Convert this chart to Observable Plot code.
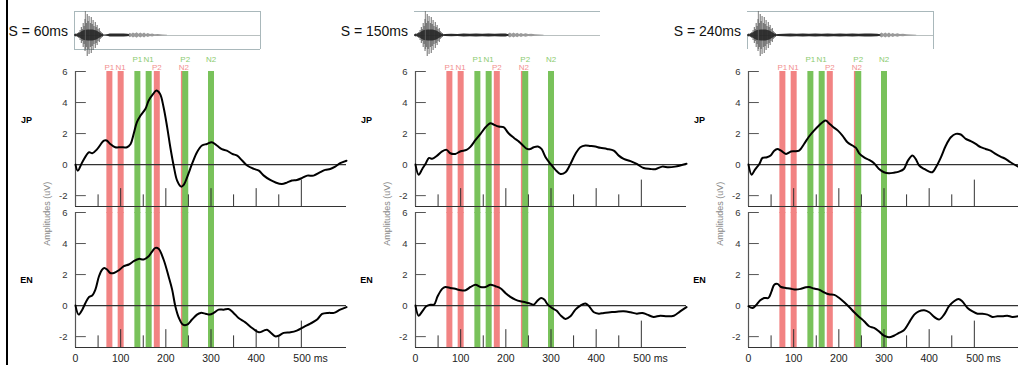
<!DOCTYPE html>
<html>
<head>
<meta charset="utf-8">
<script src="https://cdn.jsdelivr.net/npm/d3@7"></script>
<script src="https://cdn.jsdelivr.net/npm/@observablehq/plot@0.6"></script>
<style>
  html, body { margin: 0; padding: 0; background: #fff; }
  #root { position: relative; width: 1018px; height: 365px; overflow: hidden; font-family: "Liberation Sans", Arial, sans-serif; }
  .abs { position: absolute; }
  .title { position: absolute; top: 23px; font-size: 14px; line-height: 16px; white-space: nowrap; color: #111; text-align: right; }
  svg { overflow: visible; }
</style>
</head>
<body>
<div id="root"></div>
<script>
// ---------- data ----------
const rows = ["JP", "EN"];
const yTicks = [6, 4, 2, 0, -2];
const xTickValues = [0, 100, 200, 300, 400];
const xTickLabels = ["0", "100", "200", "300", "400"];
const xLastValue = 500;
const xLastLabel = "500 ms";
const rulerTimes = [50, 100, 150, 200, 250, 300, 350, 400, 450, 500];
const rulerLengths = [0.75, 1.15, 0.75, 1.15, 0.75, 1.15, 0.75, 1.15, 0.75, 1.7];
const redTimes = [75, 100, 180, 240];
const redLabels = ["P1", "N1", "P2", "N2"];
const greenTimes = [137, 162, 243, 300];
const greenLabels = ["P1", "N1", "P2", "N2"];
const rowLabelValues = [2.84, 1.63];
const titles = ["S = 60ms", "S = 150ms", "S = 240ms"];

// ERP curves [ms, µV]
const jp60 = [[0,0],[5,-0.39],[15,0.15],[30,0.8],[37,0.73],[48,1.0],[63,1.55],[69,1.55],[77,1.33],[88,1.12],[100,1.12],[114,1.12],[122,1.33],[129,2.0],[136,2.73],[144,3.16],[155,3.6],[162,4.13],[172,4.56],[179,4.77],[187,4.56],[195,3.7],[203,2.4],[210,1.1],[218,-0.17],[225,-1.03],[234,-1.42],[240,-1.29],[247,-0.82],[258,0.04],[269,0.8],[280,1.23],[291,1.33],[302,1.44],[313,1.23],[324,1.0],[335,0.9],[347,0.69],[358,0.58],[369,0.26],[380,-0.06],[395,-0.28],[406,-0.39],[417,-0.71],[431,-0.99],[442,-1.14],[457,-1.25],[468,-1.16],[479,-1.03],[490,-0.99],[502,-0.86],[513,-0.71],[527,-0.71],[542,-0.49],[553,-0.34],[564,-0.28],[575,-0.13],[586,0.09],[600,0.25]];
const en60 = [[0,0],[7,-0.58],[15,-0.26],[22,0.17],[30,0.56],[37,0.65],[44,1.03],[52,1.89],[59,2.32],[64,2.43],[70,2.32],[77,2.1],[85,2.1],[96,2.28],[107,2.54],[118,2.65],[129,2.86],[140,3.01],[151,2.97],[162,3.18],[170,3.5],[177,3.72],[184,3.66],[195,2.97],[206,1.89],[214,1.03],[221,-0.04],[229,-0.8],[238,-1.23],[247,-1.23],[258,-0.9],[269,-0.58],[277,-0.47],[288,-0.52],[297,-0.58],[306,-0.47],[317,-0.26],[328,-0.26],[339,-0.22],[350,-0.47],[361,-0.8],[376,-1.08],[391,-1.44],[406,-1.72],[417,-1.61],[424,-1.55],[433,-1.76],[442,-1.98],[450,-1.94],[461,-1.76],[476,-1.72],[490,-1.61],[505,-1.38],[520,-1.16],[535,-0.9],[546,-0.54],[560,-0.47],[572,-0.47],[586,-0.26],[600,-0.1]];
const jp150 = [[0,0],[7,-0.65],[15,-0.28],[22,0.04],[30,0.43],[37,0.37],[48,0.58],[59,0.86],[69,0.95],[77,0.73],[88,0.69],[100,0.86],[113,0.95],[122,1.16],[133,1.59],[144,1.98],[155,2.41],[166,2.67],[173,2.58],[184,2.45],[195,2.41],[206,2.02],[218,1.72],[229,1.48],[238,1.23],[247,1.01],[254,1.01],[262,1.12],[271,1.16],[279,1.01],[288,0.47],[299,0.04],[310,-0.34],[321,-0.6],[332,-0.49],[343,0.04],[354,0.69],[365,1.12],[376,1.23],[387,1.2],[398,1.16],[409,1.08],[424,1.01],[439,0.9],[450,0.58],[461,0.37],[476,0.22],[490,0.04],[505,-0.22],[520,-0.28],[531,-0.3],[546,-0.13],[560,-0.17],[575,-0.13],[586,-0.06],[600,0.05]];
const en150 = [[0,0],[7,-0.65],[15,-0.37],[24,-0.04],[33,0.06],[41,0.06],[49,0.6],[59,1.08],[66,1.2],[77,1.14],[88,1.08],[100,0.99],[111,0.99],[122,1.2],[133,1.35],[144,1.2],[155,1.2],[166,1.35],[177,1.25],[188,1.12],[199,0.82],[210,0.56],[221,0.39],[232,0.28],[243,0.22],[254,0.13],[262,0.06],[269,0.28],[278,0.49],[285,0.39],[293,0.06],[302,-0.15],[312,-0.32],[322,-0.65],[332,-0.86],[343,-0.69],[354,-0.26],[365,0],[376,0.13],[383,0],[395,-0.43],[406,-0.52],[417,-0.47],[431,-0.43],[446,-0.39],[461,-0.37],[476,-0.43],[490,-0.52],[502,-0.47],[513,-0.58],[527,-0.73],[542,-0.65],[557,-0.69],[572,-0.65],[586,-0.37],[600,-0.1]];
const jp240 = [[0,0],[7,-0.65],[14,-0.34],[24,0.04],[31,0.43],[41,0.47],[49,0.58],[57,0.9],[64,1.01],[72,0.9],[83,0.69],[94,0.84],[101,0.86],[112,0.9],[123,1.33],[134,1.81],[145,2.19],[156,2.52],[164,2.73],[171,2.84],[178,2.67],[188,2.41],[198,2.19],[208,1.87],[219,1.44],[230,1.23],[238,1.08],[245,0.73],[256,0.47],[267,0.3],[278,0.09],[289,-0.28],[300,-0.49],[311,-0.56],[322,-0.52],[333,-0.45],[344,-0.28],[353,0.26],[363,0.58],[370,0.37],[378,-0.06],[389,-0.28],[400,-0.45],[407,-0.49],[415,-0.17],[426,0.47],[437,1.23],[448,1.76],[459,1.98],[470,1.94],[481,1.66],[492,1.51],[503,1.33],[514,1.12],[525,1.01],[536,0.9],[547,0.69],[558,0.52],[569,0.37],[580,0.15],[597,-0.13]];
const en240 = [[0,-0.04],[9,-0.15],[16,0],[26,0.34],[35,0.49],[44,0.49],[51,0.92],[57,1.35],[64,1.4],[72,1.2],[83,1.14],[94,1.08],[105,1.03],[116,1.08],[127,1.18],[134,1.2],[145,1.1],[156,1.03],[167,0.86],[178,0.73],[190,0.69],[201,0.49],[212,0.22],[223,-0.09],[234,-0.43],[245,-0.73],[256,-1.01],[267,-1.33],[278,-1.44],[289,-1.66],[300,-1.94],[311,-2.04],[322,-1.94],[333,-1.76],[344,-1.59],[355,-1.12],[367,-0.58],[377,-0.37],[389,-0.3],[400,-0.43],[411,-0.73],[422,-0.9],[433,-0.58],[444,-0.04],[455,0.28],[465,0.43],[473,0.28],[485,-0.15],[496,-0.37],[507,-0.52],[518,-0.52],[529,-0.58],[540,-0.73],[551,-0.69],[562,-0.69],[573,-0.65],[584,-0.73],[597,-0.69]];

// stimulus waveforms [audio ms, half amplitude]
const burstSpikes = [[3,1.5],[9,2],[14,3],[18,5],[22,8],[25,6],[28,12],[31,9],[34,16],[38,12],[41,21],[44,14],[47,19],[51,12],[54,18],[57,11],[60,15],[63,9],[67,13],[70,8],[73,10],[76,6],[80,7],[83,4],[86,3],[90,2]];
const burstCore = [[0,0.8],[10,1.3],[18,2.5],[25,4],[32,5],[45,5.5],[60,5.5],[72,4.5],[80,3],[88,1.5],[95,0.5]];
const dark60 = [[88,0.4],[100,0.5],[110,1.0],[115,1.5],[130,1.6],[145,1.4],[160,1.6],[172,1.3],[178,0.8]];
const light60 = [[175,1.0],[180,2.2],[185,1.2],[190,2.6],[196,1.4],[202,2.7],[208,1.3],[214,2.5],[220,1.2],[226,2.4],[232,1.1],[238,2.0],[245,1.0],[252,1.6],[260,0.8],[270,1.0],[285,0.5],[300,0.2]];
const dark150 = [[88,0.4],[100,1.0],[120,1.3],[140,1.1],[160,1.4],[180,1.2],[200,1.5],[220,1.3],[240,1.4],[260,1.3],[280,1.6],[295,1.4],[305,0.8]];
const light150 = [[303,1.2],[309,2.4],[315,1.3],[321,2.5],[327,1.2],[333,2.3],[339,1.1],[345,2.1],[352,1.0],[360,1.7],[368,0.9],[378,1.2],[390,0.7],[405,0.5],[418,0.2]];
const dark240 = [[88,0.4],[100,0.9],[120,1.2],[140,1.4],[160,1.2],[180,1.4],[200,1.3],[220,1.5],[240,1.3],[260,1.4],[280,1.3],[300,1.5],[320,1.3],[340,1.4],[360,1.3],[380,1.5],[400,1.4],[420,1.2],[430,0.7]];
const light240 = [[428,1.2],[434,2.4],[440,1.3],[446,2.5],[452,1.2],[458,2.4],[464,1.1],[470,2.1],[477,1.0],[485,1.8],[493,0.9],[503,1.3],[515,0.7],[530,0.5],[546,0.2]];
const cursorTime = [35];

// ---------- layout / style ----------
const axisXs = [75, 415, 748];
const waveSides = [["top","bottom","left","right"], ["top"], ["top","right","leftLow"]];
const curves = [[jp60, en60], [jp150, en150], [jp240, en240]];
const darks = [dark60, dark150, dark240];
const lights = [light60, light150, light240];
const RED = "#f28383", GREEN = "#79c25b";
const RED_T = "#f29090", GREEN_T = "#8ccb70";
const YMIN = -2.7, YMAX = 6, GAPLO = -3.15;
const FONT = "'Liberation Sans', Arial, sans-serif";
const root = document.getElementById("root");

function mainPlot(ci) {
  const [jp, en] = curves[ci];
  const curveData = [
    ...jp.map(([t, v]) => ({row: "JP", t, v})),
    ...en.map(([t, v]) => ({row: "EN", t, v}))
  ];
  const redBars = [], greenBars = [];
  for (const row of rows) {
    redTimes.forEach(t => redBars.push({row, t, lo: row === "JP" ? GAPLO : YMIN}));
    greenTimes.forEach(t => greenBars.push({row, t, lo: row === "JP" ? GAPLO : YMIN}));
  }
  const redLab = redTimes.map((t, i) => ({row: "JP", t, label: redLabels[i]}));
  const greenLab = greenTimes.map((t, i) => ({row: "JP", t, label: greenLabels[i]}));
  const rowLab = rows.map((r, i) => ({row: r, y: rowLabelValues[i]}));
  const xLab = xTickValues.map((t, i) => ({row: "EN", t, label: xTickLabels[i]}));
  const xLast = [{row: "EN", t: xLastValue, label: xLastLabel}];
  const ampLab = [{row: "JP", y: -3.16, label: "Amplitudes (uV)"}];
  const ruler = rulerTimes.map((t, i) => ({t, len: rulerLengths[i]}));

  return Plot.plot({
    width: 346, height: 365,
    marginLeft: 75, marginRight: 0, marginTop: 71, marginBottom: 18,
    x: {domain: [0, 600], axis: null},
    y: {domain: [YMIN, YMAX], axis: null},
    fy: {domain: rows, paddingInner: 0.045, paddingOuter: 0, axis: null, label: null},
    style: {background: "transparent", overflow: "visible", maxWidth: "none", fontFamily: FONT},
    marks: [
      Plot.ruleX(redBars, {x: "t", fy: "row", y1: "lo", y2: YMAX, stroke: RED, strokeWidth: 6}),
      Plot.ruleX(greenBars, {x: "t", fy: "row", y1: "lo", y2: YMAX, stroke: GREEN, strokeWidth: 6}),
      Plot.ruleX(ruler, {x: "t", y1: YMIN, y2: d => YMIN + d.len, stroke: "#333", strokeWidth: 1}),
      Plot.ruleY([YMIN], {x1: 0, x2: 600, stroke: "#333", strokeWidth: 1.2}),
      Plot.ruleX([0], {y1: YMIN, y2: YMAX, stroke: "#555", strokeWidth: 1.2}),
      Plot.ruleY(yTicks, {x1: 0, x2: 24, stroke: "#555", strokeWidth: 1}),
      Plot.ruleY([0], {x1: 0, x2: 600, stroke: "#333", strokeWidth: 1.1}),
      Plot.line(curveData, {x: "t", y: "v", fy: "row", curve: "catmull-rom", stroke: "#000", strokeWidth: 2}),
      Plot.text(yTicks, {x: 0, y: d => d, text: d => String(d), dx: -8, textAnchor: "end", fontSize: 9.5, fill: "#333"}),
      Plot.text(rowLab, {x: 0, y: "y", fy: "row", text: "row", dx: -49, fontSize: 9, fontWeight: "bold", fill: "#000"}),
      Plot.text(ampLab, {x: 0, y: "y", fy: "row", text: "label", dx: -28, rotate: -90, fontSize: 9, fill: "#888"}),
      Plot.text(redLab, {x: "t", y: YMAX, fy: "row", text: "label", dy: -2, lineAnchor: "bottom", fontSize: 8, fill: RED_T}),
      Plot.text(greenLab, {x: "t", y: YMAX, fy: "row", text: "label", dy: -10, lineAnchor: "bottom", fontSize: 8, fill: GREEN_T}),
      Plot.text(xLab, {x: "t", y: YMIN, fy: "row", text: "label", dy: 11, fontSize: 10.5, fill: "#222"}),
      Plot.text(xLast, {x: "t", y: YMIN, fy: "row", text: "label", dy: 11, dx: -8, textAnchor: "start", fontSize: 10.5, fill: "#222"})
    ]
  });
}

function wavePlot(ci) {
  const sides = waveSides[ci];
  const boxStroke = "#a9b8bb";
  const marks = [];
  if (sides.includes("top")) marks.push(Plot.ruleY([24], {x1: 0, x2: 600, stroke: boxStroke}));
  if (sides.includes("bottom")) marks.push(Plot.ruleY([-14], {x1: 0, x2: 600, stroke: boxStroke}));
  if (sides.includes("left")) marks.push(Plot.ruleX([0], {y1: -14, y2: 24, stroke: boxStroke}));
  if (sides.includes("leftLow")) marks.push(Plot.ruleX([0], {y1: -14, y2: 0, stroke: boxStroke}));
  if (sides.includes("right")) marks.push(Plot.ruleX([600], {y1: -14, y2: 24, stroke: boxStroke}));
  marks.push(Plot.ruleY([0], {x1: 0, x2: 600, stroke: "#b9c0c0", strokeWidth: 1}));
  marks.push(Plot.areaY(lights[ci], {x: d => d[0], y1: d => -d[1], y2: d => d[1], fill: "#9a9a9a"}));
  marks.push(Plot.areaY(darks[ci], {x: d => d[0], y1: d => -d[1], y2: d => d[1], fill: "#2a2a2a"}));
  marks.push(Plot.ruleX(burstSpikes, {x: d => d[0], y1: d => -d[1], y2: d => d[1], stroke: "#444", strokeWidth: 0.8}));
  marks.push(Plot.areaY(burstCore, {x: d => d[0], y1: d => -d[1], y2: d => d[1], fill: "#222", fillOpacity: 0.85}));
  marks.push(Plot.ruleX(cursorTime, {y1: -14, y2: 24, stroke: "#666", strokeWidth: 0.8}));
  return Plot.plot({
    width: 187, height: 42, marginLeft: 0, marginRight: 1, marginTop: 0, marginBottom: 0,
    x: {domain: [0, 600], axis: null},
    y: {domain: [-17, 25], axis: null},
    style: {background: "transparent", overflow: "visible", maxWidth: "none"},
    marks
  });
}

axisXs.forEach((ax, ci) => {
  const m = mainPlot(ci);
  m.style.position = "absolute";
  m.style.left = (ax - 75) + "px";
  m.style.top = "0px";
  root.appendChild(m);

  const w = wavePlot(ci);
  w.style.position = "absolute";
  w.style.left = (ax - 1) + "px";
  w.style.top = "10px";
  root.appendChild(w);

  const t = document.createElement("div");
  t.className = "title";
  t.textContent = titles[ci];
  t.style.right = (1018 - (ax - 7)) + "px";
  root.appendChild(t);
});

const bar = document.createElement("div");
bar.className = "abs";
bar.style.cssText = "position:absolute;left:6px;top:0;width:2px;height:365px;background:#000";
root.appendChild(bar);
</script>
</body>
</html>
